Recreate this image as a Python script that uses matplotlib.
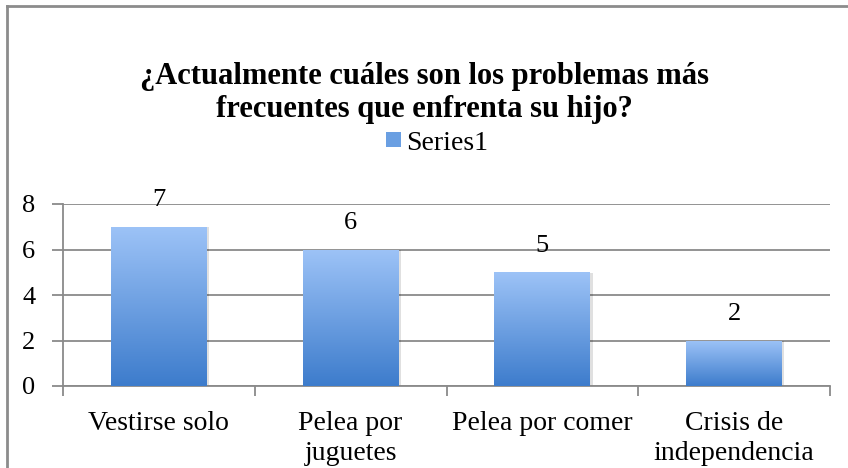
import numpy as np
import matplotlib.pyplot as plt
from matplotlib.patches import Rectangle
from matplotlib.lines import Line2D
from matplotlib.colors import LinearSegmentedColormap

categories = ['Vestirse solo', 'Pelea por\njuguetes', 'Pelea por comer', 'Crisis de\nindependencia']
values = [7, 6, 5, 2]
series_name = 'Series1'
title = '¿Actualmente cuáles son los problemas más\nfrecuentes que enfrenta su hijo?'

plt.rcParams['font.family'] = ['Liberation Serif', 'DejaVu Serif']

fig = plt.figure(figsize=(8.48, 4.68), dpi=100)
ax = fig.add_axes([63 / 848, 1 - 386 / 468, (830 - 63) / 848, (386 - 204) / 468])

# degradado de las barras (claro arriba, oscuro abajo)
cmap = LinearSegmentedColormap.from_list('bar', ['#3d7ccc', '#9dc3f7'])
grad = np.linspace(0, 1, 256).reshape(-1, 1)

x = np.arange(len(categories))
bars = ax.bar(x, values, width=0.5, color='none', zorder=3)
for b, v in zip(bars, values):
    x0, w = b.get_x(), b.get_width()
    # sombra
    ax.add_patch(Rectangle((x0 + 0.012, -0.02), w, v, facecolor='#000000', alpha=0.12,
                           edgecolor='none', zorder=2))
    im = ax.imshow(grad, extent=(x0, x0 + w, 0, v), origin='lower', cmap=cmap,
                   aspect='auto', zorder=3)
    im.set_clip_path(b)
    ax.annotate(str(v), (x0 + w / 2, v), xytext=(0, 19), textcoords='offset points',
                ha='center', va='center', fontsize=19)

ax.set_xlim(-0.5, len(categories) - 0.5)
ax.set_ylim(0, 8)
ax.set_yticks([0, 2, 4, 6, 8])
ax.yaxis.grid(True, color='#8a8a8a', linewidth=1.3, zorder=0)
ax.set_axisbelow(True)

ax.set_xticks(x)
ax.set_xticklabels(categories, fontsize=20, linespacing=1.25)
ax.set_xticks(np.arange(-0.5, len(categories)), minor=True)
ax.tick_params(axis='x', which='major', length=0, pad=18)
ax.tick_params(axis='x', which='minor', length=7, color='#8a8a8a', width=1.3)
ax.tick_params(axis='y', length=8, color='#8a8a8a', width=1.3, labelsize=19, pad=12)

for s in ['top', 'right']:
    ax.spines[s].set_visible(False)
for s in ['left', 'bottom']:
    ax.spines[s].set_color('#8a8a8a')
    ax.spines[s].set_linewidth(1.3)

fig.text(0.5, 1 - 93 / 468, title, ha='center', va='center', fontsize=22,
         fontweight='bold', linespacing=1.22)

# leyenda
fig.patches.append(Rectangle((386 / 848, 1 - 147 / 468), 15 / 848, 15 / 468,
                             transform=fig.transFigure, facecolor='#6a9fe2',
                             edgecolor='none'))
fig.text(406 / 848, 1 - 143 / 468, series_name, ha='left', va='center', fontsize=20)

# borde del grafico
fig.lines.append(Line2D([7 / 848, 1], [1 - 6 / 468, 1 - 6 / 468], transform=fig.transFigure,
                        color='#8c8c8c', linewidth=2))
fig.lines.append(Line2D([7 / 848, 7 / 848], [0, 1 - 6 / 468], transform=fig.transFigure,
                        color='#8c8c8c', linewidth=2))

fig.savefig('out.png', dpi=100)
